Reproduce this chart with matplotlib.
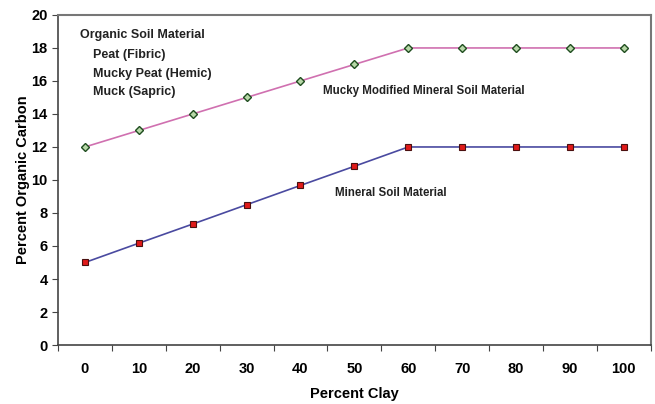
import matplotlib.pyplot as plt

plt.rcParams['font.family'] = ['Liberation Sans', 'DejaVu Sans']

# Data
clay = [0, 10, 20, 30, 40, 50, 60, 70, 80, 90, 100]
mucky_carbon = [12, 13, 14, 15, 16, 17, 18, 18, 18, 18, 18]
mineral_carbon = [5, 6.17, 7.33, 8.5, 9.67, 10.83, 12, 12, 12, 12, 12]
y_ticks = [0, 2, 4, 6, 8, 10, 12, 14, 16, 18, 20]

fig = plt.figure(figsize=(6.55, 4.04), dpi=100)
ax = fig.add_axes([0.0885, 0.146, 0.905, 0.817])

ax.plot(clay, mucky_carbon, color='#d070b0', lw=1.2, marker='D', ms=4,
        mfc='#b8d8a8', mec='#1f4d1f', mew=1.0, zorder=3)
ax.plot(clay, mineral_carbon, color='#4a4aa0', lw=1.2, marker='s', ms=5,
        mfc='#e01a1a', mec='#4a1010', mew=0.8, zorder=3)

ax.set_xlim(-5, 105)
ax.set_ylim(0, 20)
ax.set_yticks(y_ticks)
ax.set_xticks([c - 5 for c in clay] + [105])
ax.set_xticklabels([])
ax.set_xticks(clay, minor=True)
ax.set_xticklabels([str(c) for c in clay], minor=True, fontweight='bold', fontsize=10.5)
ax.tick_params(axis='x', which='minor', length=0, pad=12)
ax.tick_params(axis='x', which='major', length=4, direction='out', color='#444444')
ax.tick_params(axis='y', length=4, direction='out', color='#444444', labelsize=10.5)
for lab in ax.get_yticklabels():
    lab.set_fontweight('bold')

for side in ['left', 'bottom']:
    ax.spines[side].set_color('#444444')
    ax.spines[side].set_linewidth(1.2)
for side in ['top', 'right']:
    ax.spines[side].set_color('#777777')
    ax.spines[side].set_linewidth(1.5)

ax.set_xlabel('Percent Clay', fontweight='bold', fontsize=10.5, labelpad=8)
ax.set_ylabel('Percent Organic Carbon', fontweight='bold', fontsize=10.5, labelpad=1)

txt = dict(fontweight='bold', fontsize=9, color='#222222', va='center')
ax.text(-0.9, 18.78, 'Organic Soil Material', **txt)
ax.text(1.5, 17.57, 'Peat (Fibric)', **txt)
ax.text(1.5, 16.41, 'Mucky Peat (Hemic)', **txt)
ax.text(1.5, 15.32, 'Muck (Sapric)', **txt)
txt['fontsize'] = 8.3
ax.text(44.2, 15.38, 'Mucky Modified Mineral Soil Material', **txt)
ax.text(46.4, 9.24, 'Mineral Soil Material', **txt)

fig.savefig('out.png', dpi=100)
